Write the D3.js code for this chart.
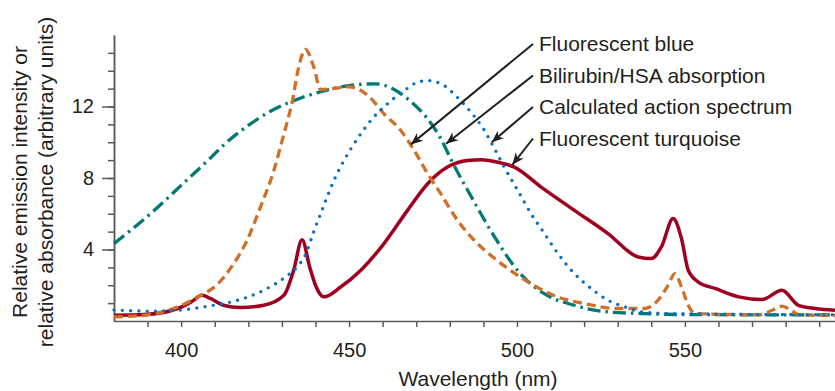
<!DOCTYPE html>
<html>
<head>
<meta charset="utf-8">
<script src="https://cdn.jsdelivr.net/npm/d3@7"></script>
<style>
  body { margin: 0; background: #fff; }
  text { font-family: "Liberation Sans", Arial, sans-serif; fill: #231f20; }
</style>
</head>
<body>
<div id="chart"></div>
<script>
// Fluorescent blue lamp emission (orange dashed)
const blueWl = [380, 389, 399, 405, 411, 415.6, 419.6, 423.6, 427.6, 430.6, 433.1, 435, 437, 439.5, 441.5, 445, 450, 453, 456, 460.4, 465.4, 469.4, 473.4, 477.3, 482.3, 487.3, 493, 498, 505, 512, 520, 530, 538, 542, 545, 547, 549, 551, 553, 572, 576, 579, 582, 584, 595];
const blueVal = [0.23, 0.32, 0.79, 1.35, 2.09, 3.2, 4.5, 6.37, 8.42, 10.47, 12.3, 14.2, 15.2, 14.2, 12.95, 13.0, 13.1, 12.95, 12.55, 11.59, 10.66, 9.54, 8.24, 7.12, 5.63, 4.51, 3.55, 2.84, 2.0, 1.35, 0.98, 0.7, 0.7, 1.16, 2.0, 2.65, 1.9, 0.88, 0.42, 0.35, 0.6, 0.83, 0.55, 0.35, 0.3];

// Bilirubin/HSA absorption (teal dash-dot)
const biliWl = [380, 392, 400, 409, 413, 420, 427, 436, 442, 450, 458, 463, 468, 473, 477, 481, 487, 493, 501, 508, 517, 527, 537, 550, 595];
const biliVal = [4.33, 6.19, 7.59, 9.17, 9.9, 10.94, 11.78, 12.5, 12.85, 13.17, 13.27, 12.99, 12.34, 11.4, 10.3, 8.8, 6.75, 4.8, 2.65, 1.54, 0.88, 0.51, 0.42, 0.36, 0.34];

// Calculated action spectrum (blue dotted)
const actionWl = [380, 390, 400, 408, 415, 420, 425, 431, 434.5, 437, 439.5, 442.5, 445.5, 448.5, 452.5, 456.4, 461.4, 466.4, 470.4, 473.4, 478.3, 482.3, 486.3, 490.3, 493, 496.2, 500.2, 504.2, 508.2, 512.2, 517.1, 522.1, 527.1, 532.1, 537, 544, 595];
const actionVal = [0.62, 0.55, 0.62, 0.83, 1.07, 1.35, 1.76, 2.46, 3.02, 3.7, 5.0, 6.47, 7.87, 8.98, 10.2, 11.2, 12.15, 12.89, 13.36, 13.45, 13.17, 12.5, 11.68, 10.66, 9.75, 8.61, 7.31, 6.0, 4.89, 3.77, 2.65, 1.82, 1.16, 0.79, 0.51, 0.42, 0.35];

// Fluorescent turquoise lamp emission (red solid)
const turqWl = [380, 389, 399, 403, 406.2, 408.7, 412.6, 417.6, 424.6, 430.6, 433.5, 436, 438.3, 440, 442.5, 447.5, 453.5, 460.4, 467.4, 473.4, 479.3, 485.3, 489.3, 495, 499.2, 507.2, 517.1, 527.1, 536.1, 540, 543, 546.5, 549, 551, 554, 559, 566, 573, 578.9, 583.8, 588.8, 595];
const turqVal = [0.32, 0.36, 0.7, 1.07, 1.44, 1.26, 0.88, 0.75, 0.88, 1.44, 2.84, 4.55, 3.0, 2.0, 1.35, 1.9, 2.84, 4.33, 6.19, 7.68, 8.61, 8.98, 9.02, 8.85, 8.61, 7.49, 6.19, 4.89, 3.58, 3.49, 4.14, 5.73, 4.6, 2.84, 2.18, 1.82, 1.35, 1.2, 1.72, 0.88, 0.7, 0.6];

// Axis ticks
const xMinorTicks = d3.range(390, 600, 10);
const xLabels = [400, 450, 500, 550];
const yMinorTicks = d3.range(1, 16);
const yLabels = [4, 8, 12];

// Annotation labels and where their arrows point (wavelength, value)
const noteLabels = ['Fluorescent blue', 'Bilirubin/HSA absorption', 'Calculated action spectrum', 'Fluorescent turquoise'];
const noteTipWl = [468.4, 478.9, 492.5, 498.6];
const noteTipVal = [9.88, 9.92, 10.0, 8.74];

const width = 835;
const height = 391;

const x = d3.scaleLinear().domain([380, 595]).range([114, 836]);
const y = d3.scaleLinear().domain([0, 16]).range([321, 35]);

const svg = d3.select('#chart')
  .append('svg')
  .attr('width', width)
  .attr('height', height);

// arrow head
svg.append('defs')
  .append('marker')
  .attr('id', 'arrow')
  .attr('viewBox', '-12 -6 14 12')
  .attr('markerUnits', 'userSpaceOnUse')
  .attr('markerWidth', 14)
  .attr('markerHeight', 12)
  .attr('refX', 0)
  .attr('refY', 0)
  .attr('orient', 'auto')
  .append('path')
  .attr('d', 'M0,0 L-12,-5 L-8.5,0 L-12,5 Z')
  .attr('fill', '#231f20');

// x axis: minor ticks every 10 nm, labels every 50
const xAxis = svg.append('g')
  .attr('transform', `translate(0,${y(0)})`)
  .call(d3.axisBottom(x)
    .tickValues(xMinorTicks)
    .tickSize(6)
    .tickSizeOuter(0)
    .tickFormat(d => xLabels.includes(d) ? d : ''));

xAxis.selectAll('text')
  .attr('y', 22)
  .attr('dy', '0.71em')
  .style('font-size', '20px');

// y axis: minor ticks every unit, longer labelled ticks every 4
const yMinor = svg.append('g')
  .attr('transform', `translate(${x(380)},0)`)
  .call(d3.axisLeft(y)
    .tickValues(yMinorTicks)
    .tickSize(6)
    .tickSizeOuter(0)
    .tickFormat(''));

const yMajor = svg.append('g')
  .attr('transform', `translate(${x(380)},0)`)
  .call(d3.axisLeft(y)
    .tickValues(yLabels)
    .tickSize(12)
    .tickPadding(8)
    .tickSizeOuter(0));

yMajor.selectAll('text').style('font-size', '20px');

svg.selectAll('.domain, .tick line')
  .attr('stroke', '#5a5a5a')
  .attr('stroke-width', 1.5);

// axis titles
svg.append('text')
  .attr('x', 478)
  .attr('y', 386)
  .attr('text-anchor', 'middle')
  .style('font-size', '21px')
  .text('Wavelength (nm)');

svg.append('text')
  .attr('transform', 'translate(27,182) rotate(-90)')
  .attr('text-anchor', 'middle')
  .style('font-size', '21px')
  .text('Relative emission intensity or');

svg.append('text')
  .attr('transform', 'translate(53,182) rotate(-90)')
  .attr('text-anchor', 'middle')
  .style('font-size', '21px')
  .text('relative absorbance (arbitrary units)');

// curves
const line = d3.line()
  .x(d => x(d[0]))
  .y(d => y(d[1]))
  .curve(d3.curveMonotoneX);

const series = [
  { wl: turqWl, val: turqVal, color: '#a00020', width: 3.5, dash: null },
  { wl: biliWl, val: biliVal, color: '#007a73', width: 3.3, dash: '13,5,2.5,5' },
  { wl: blueWl, val: blueVal, color: '#d06f28', width: 3.3, dash: '9,5' },
  { wl: actionWl, val: actionVal, color: '#0a6fc2', width: 3.4, dash: '0,8.3' }
];

series.forEach(s => {
  svg.append('path')
    .datum(d3.zip(s.wl, s.val))
    .attr('d', line)
    .attr('fill', 'none')
    .attr('stroke', s.color)
    .attr('stroke-width', s.width)
    .attr('stroke-linecap', s.dash === '0,8.3' ? 'round' : 'butt')
    .attr('stroke-dasharray', s.dash);
});

// annotations with arrows
noteLabels.forEach((label, i) => {
  const textY = 51 + i * 31.5;
  svg.append('line')
    .attr('x1', 533)
    .attr('y1', textY - 7)
    .attr('x2', x(noteTipWl[i]))
    .attr('y2', y(noteTipVal[i]))
    .attr('stroke', '#231f20')
    .attr('stroke-width', 2)
    .attr('marker-end', 'url(#arrow)');

  svg.append('text')
    .attr('x', 539)
    .attr('y', textY)
    .style('font-size', '21px')
    .text(label);
});
</script>
</body>
</html>
